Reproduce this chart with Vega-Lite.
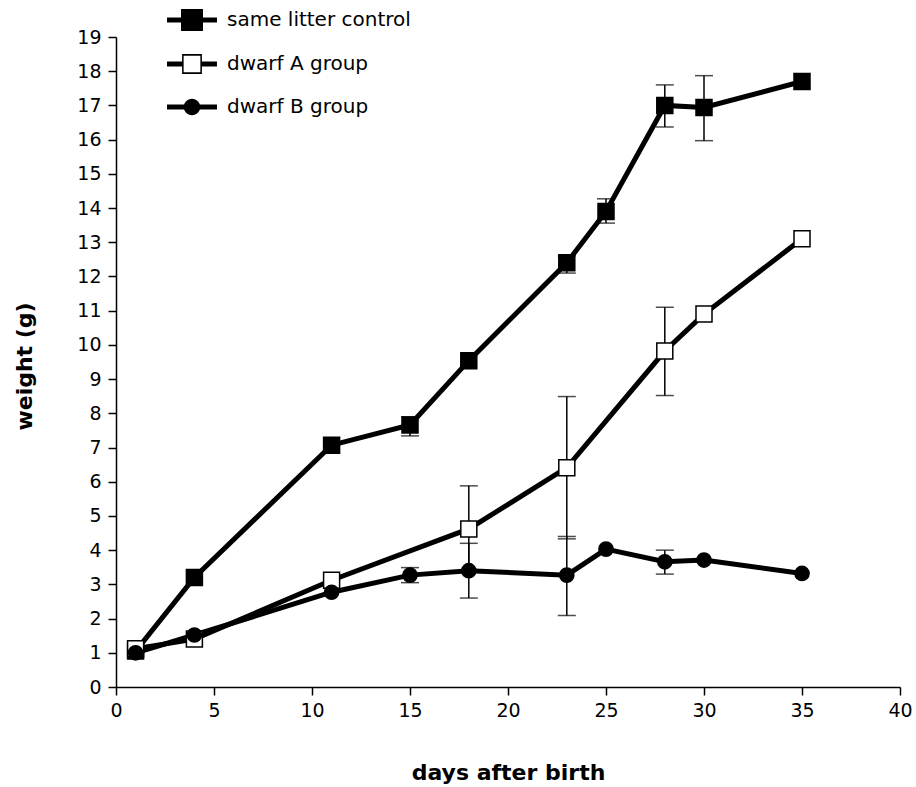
{
  "$schema": "https://vega.github.io/schema/vega-lite/v6.json",
  "width": 784,
  "height": 650,
  "autosize": {"type": "none"},
  "padding": {"left": 116, "top": 37, "right": 16, "bottom": 100},
  "background": "white",
  "config": {
    "view": {"stroke": null},
    "font": "DejaVu Sans",
    "axis": {
      "grid": false,
      "domainColor": "black",
      "domainWidth": 1.5,
      "tickColor": "black",
      "tickWidth": 1.5,
      "tickSize": 8,
      "labelFont": "DejaVu Sans",
      "labelFontSize": 19,
      "labelColor": "black",
      "labelPadding": 6,
      "labelOverlap": false,
      "labelFlush": false,
      "titleFont": "DejaVu Sans",
      "titleFontSize": 22,
      "titleFontWeight": "bold",
      "titleColor": "black"
    },
    "axisY": {"labelPadding": 7}
  },
  "data": {
    "values": [
      {"series": "same litter control", "day": 1, "weight": 1.05, "lo": null, "hi": null},
      {"series": "same litter control", "day": 4, "weight": 3.2, "lo": null, "hi": null},
      {"series": "same litter control", "day": 11, "weight": 7.07, "lo": null, "hi": null},
      {"series": "same litter control", "day": 15, "weight": 7.66, "lo": 7.34, "hi": 7.9},
      {"series": "same litter control", "day": 18, "weight": 9.54, "lo": null, "hi": null},
      {"series": "same litter control", "day": 23, "weight": 12.4, "lo": 12.1, "hi": 12.6},
      {"series": "same litter control", "day": 25, "weight": 13.9, "lo": 13.56, "hi": 14.27},
      {"series": "same litter control", "day": 28, "weight": 17.0, "lo": 16.37, "hi": 17.6},
      {"series": "same litter control", "day": 30, "weight": 16.94, "lo": 15.97, "hi": 17.87},
      {"series": "same litter control", "day": 35, "weight": 17.7, "lo": null, "hi": null},
      {"series": "dwarf A group", "day": 1, "weight": 1.12, "lo": null, "hi": null},
      {"series": "dwarf A group", "day": 4, "weight": 1.4, "lo": null, "hi": null},
      {"series": "dwarf A group", "day": 11, "weight": 3.12, "lo": null, "hi": null},
      {"series": "dwarf A group", "day": 18, "weight": 4.62, "lo": 3.36, "hi": 5.88},
      {"series": "dwarf A group", "day": 23, "weight": 6.41, "lo": 4.33, "hi": 8.49},
      {"series": "dwarf A group", "day": 28, "weight": 9.82, "lo": 8.52, "hi": 11.1},
      {"series": "dwarf A group", "day": 30, "weight": 10.9, "lo": null, "hi": null},
      {"series": "dwarf A group", "day": 35, "weight": 13.1, "lo": null, "hi": null},
      {"series": "dwarf B group", "day": 1, "weight": 1.0, "lo": null, "hi": null},
      {"series": "dwarf B group", "day": 4, "weight": 1.52, "lo": null, "hi": null},
      {"series": "dwarf B group", "day": 11, "weight": 2.77, "lo": null, "hi": null},
      {"series": "dwarf B group", "day": 15, "weight": 3.27, "lo": 3.05, "hi": 3.49},
      {"series": "dwarf B group", "day": 18, "weight": 3.4, "lo": 2.6, "hi": 4.2},
      {"series": "dwarf B group", "day": 23, "weight": 3.27, "lo": 2.09, "hi": 4.4},
      {"series": "dwarf B group", "day": 25, "weight": 4.03, "lo": null, "hi": null},
      {"series": "dwarf B group", "day": 28, "weight": 3.66, "lo": 3.3, "hi": 4.0},
      {"series": "dwarf B group", "day": 30, "weight": 3.71, "lo": null, "hi": null},
      {"series": "dwarf B group", "day": 35, "weight": 3.32, "lo": null, "hi": null}
    ]
  },
  "encoding": {
    "x": {
      "field": "day",
      "type": "quantitative",
      "scale": {"domain": [0, 40], "nice": false},
      "axis": {"values": [0, 5, 10, 15, 20, 25, 30, 35, 40], "title": "days after birth", "titleY": 75, "titleBaseline": "top"}
    },
    "y": {
      "field": "weight",
      "type": "quantitative",
      "scale": {"domain": [0, 19], "nice": false},
      "axis": {
        "tickCount": 19,
        "title": "weight (g)",
        "titleX": -92,
        "titleY": 329,
        "titleBaseline": "middle",
        "titleAngle": -90,
        "titleAlign": "center"
      }
    }
  },
  "layer": [
    {
      "transform": [{"filter": "datum.lo != null"}],
      "mark": {"type": "rule", "color": "black", "strokeWidth": 1.5},
      "encoding": {
        "y": {
          "field": "lo",
          "type": "quantitative",
          "scale": {"domain": [0, 19], "nice": false},
          "axis": {
            "tickCount": 19,
            "title": "weight (g)",
            "titleX": -92,
            "titleY": 329,
            "titleBaseline": "middle",
            "titleAngle": -90,
            "titleAlign": "center"
          }
        },
        "y2": {"field": "hi"}
      }
    },
    {
      "transform": [{"filter": "datum.lo != null"}, {"fold": ["lo", "hi"], "as": ["end", "val"]}],
      "mark": {"type": "tick", "orient": "horizontal", "color": "black", "size": 18, "thickness": 1.5},
      "encoding": {
        "y": {
          "field": "val",
          "type": "quantitative",
          "axis": {
            "tickCount": 19,
            "title": "weight (g)",
            "titleX": -92,
            "titleY": 329,
            "titleBaseline": "middle",
            "titleAngle": -90,
            "titleAlign": "center"
          }
        }
      }
    },
    {
      "mark": {"type": "line", "color": "black", "strokeWidth": 5},
      "encoding": {
        "detail": {"field": "series"}
      }
    },
    {
      "mark": {"type": "point", "filled": true, "color": "black", "opacity": 0},
      "encoding": {
        "shape": {
          "field": "series",
          "type": "nominal",
          "scale": {
            "domain": ["same litter control", "dwarf A group", "dwarf B group"],
            "range": [
              "M-2.27,-0.23H2.27V0.23H-2.27Z M-1,-1H1V1H-1Z",
              "M-2.27,-0.23H-0.9V0.23H-2.27Z M0.9,-0.23H2.27V0.23H0.9Z M-0.9,-0.9H0.9V0.9H-0.9Z M-0.76,-0.76V0.76H0.76V-0.76Z",
              "M-2.27,-0.23H2.27V0.23H-2.27Z M-0.75,0A0.75,0.75 0 0,1 0.75,0A0.75,0.75 0 0,1 -0.75,0Z"
            ]
          },
          "legend": {
            "title": null,
            "orient": "none",
            "legendX": 65,
            "legendY": -28,
            "padding": 0,
            "rowPadding": 22,
            "labelOffset": 24,
            "labelLimit": 400,
            "labelFont": "DejaVu Sans",
            "labelFontSize": 20,
            "labelColor": "black",
            "symbolSize": 484,
            "symbolFillColor": "black",
            "symbolStrokeColor": "black",
            "symbolStrokeWidth": 0,
            "symbolOpacity": 1,
            "encode": {
              "symbols": {
                "update": {
                  "fill": {"value": "black"},
                  "fillOpacity": {"value": 1},
                  "opacity": {"value": 1},
                  "strokeWidth": {"value": 0},
                  "size": {"value": 484}
                }
              }
            }
          }
        }
      }
    },
    {
      "mark": {"type": "point", "filled": false, "stroke": "black", "strokeWidth": 1.5, "opacity": 1},
      "encoding": {
        "shape": {
          "condition": {"test": "datum.series === 'dwarf B group'", "value": "circle"},
          "value": "square"
        },
        "fill": {
          "condition": {"test": "datum.series === 'dwarf A group'", "value": "white"},
          "value": "black"
        },
        "size": {
          "condition": {"test": "datum.series === 'dwarf B group'", "value": 201},
          "value": 256
        }
      }
    }
  ]
}
